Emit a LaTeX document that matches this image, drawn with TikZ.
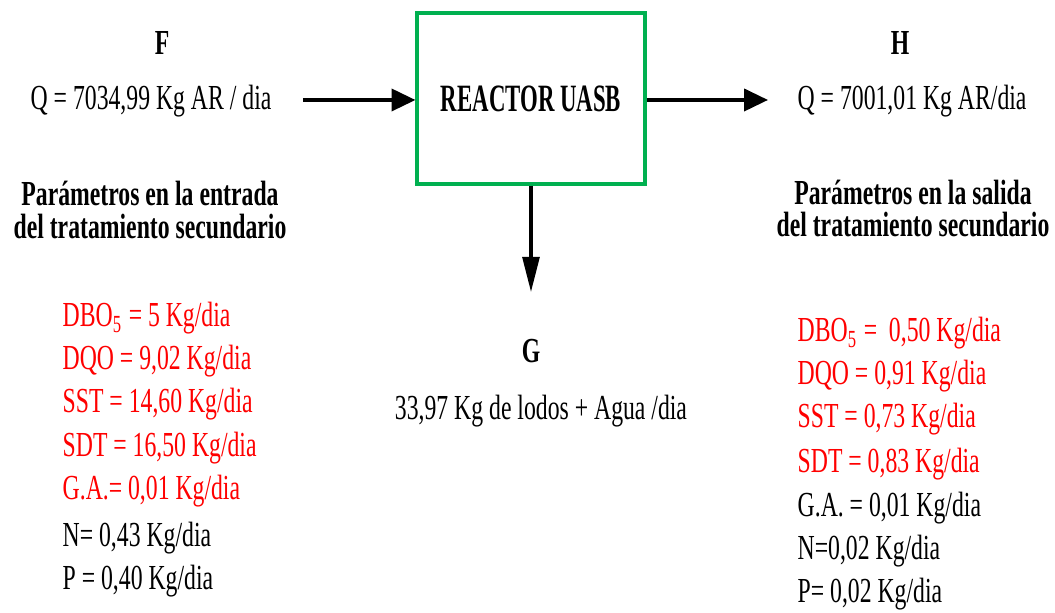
\documentclass[tikz,border=0pt]{standalone}
\usepackage{fontspec}
\setmainfont{Liberation Serif}[FakeStretch=0.675]
\newfontfamily\boxfont{Liberation Serif}[FakeStretch=0.59]
\usetikzlibrary{arrows.meta}
\definecolor{boxgreen}{RGB}{0,176,80}
\definecolor{parred}{RGB}{255,0,0}
\begin{document}
\begin{tikzpicture}[
    txt/.style={inner sep=0pt, font=\fontsize{10}{12}\selectfont},
    btxt/.style={txt, font=\fontsize{10}{12}\selectfont\bfseries},
    reactor/.style={draw=boxgreen, line width=0.9pt, minimum width=2.28cm,
      minimum height=1.71cm, inner sep=0pt, font=\boxfont\fontsize{11}{13}\selectfont\bfseries},
    flow/.style={line width=0.95pt, -{Triangle[length=6.8pt,width=6.3pt]}},
    drop/.style={line width=0.95pt, -{Triangle[length=10pt,width=4.8pt]}}
  ]
  \useasboundingbox (0,0) rectangle (10.55,6.13);
  % reactor and streams
  \node[reactor] (reactor) at (5.31,5.145) {REACTOR UASB};
  \coordinate (fin) at (3.03,5.13);
  \coordinate (hout) at (7.68,5.13);
  \coordinate (gout) at (5.31,3.21);
  \draw[flow] (fin) -- (fin -| reactor.west);
  \draw[flow] (hout -| reactor.east) -- (hout);
  \draw[drop] (reactor.south) -- (gout);
  % stream names and flows
  \node[btxt, anchor=base] (lblF) at (1.62,5.58) {F};
  \node[txt, anchor=base west] (qin) at (0.30,5.03) {Q = 7034,99 Kg AR / dia};
  \node[btxt, anchor=base] (lblH) at (9.00,5.58) {H};
  \node[txt, anchor=base west] (qout) at (7.97,5.03) {Q = 7001,01 Kg AR/dia};
  \node[btxt, anchor=base] (lblG) at (5.31,2.50) {G};
  \node[txt, anchor=base] (qsludge) at (5.41,1.93) {33,97 Kg de lodos + Agua /dia};
  % inlet parameters
  \node[btxt, anchor=base] (headin1) at (1.50,4.07) {Parámetros en la entrada};
  \node[btxt, anchor=base] (headin2) at (1.50,3.74) {del tratamiento secundario};
  \node[txt, parred, anchor=base west] (in1) at (0.62,2.86) {DBO\textsubscript{5} = 5 Kg/dia};
  \node[txt, parred, anchor=base west] (in2) at (0.62,2.43) {DQO = 9,02 Kg/dia};
  \node[txt, parred, anchor=base west] (in3) at (0.62,2.00) {SST = 14,60 Kg/dia};
  \node[txt, parred, anchor=base west] (in4) at (0.62,1.56) {SDT = 16,50 Kg/dia};
  \node[txt, parred, anchor=base west] (in5) at (0.62,1.13) {G.A.= 0,01 Kg/dia};
  \node[txt, anchor=base west] (in6) at (0.62,0.66) {N= 0,43 Kg/dia};
  \node[txt, anchor=base west] (in7) at (0.62,0.23) {P = 0,40 Kg/dia};
  % outlet parameters
  \node[btxt, anchor=base] (headout1) at (9.13,4.08) {Parámetros en la salida};
  \node[btxt, anchor=base] (headout2) at (9.13,3.76) {del tratamiento secundario};
  \node[txt, parred, anchor=base west] (out1) at (7.97,2.71) {DBO\textsubscript{5} =~ 0,50 Kg/dia};
  \node[txt, parred, anchor=base west] (out2) at (7.97,2.28) {DQO = 0,91 Kg/dia};
  \node[txt, parred, anchor=base west] (out3) at (7.97,1.85) {SST = 0,73 Kg/dia};
  \node[txt, parred, anchor=base west] (out4) at (7.97,1.40) {SDT = 0,83 Kg/dia};
  \node[txt, anchor=base west] (out5) at (7.97,0.96) {G.A. = 0,01 Kg/dia};
  \node[txt, anchor=base west] (out6) at (7.97,0.53) {N=0,02 Kg/dia};
  \node[txt, anchor=base west] (out7) at (7.97,0.10) {P= 0,02 Kg/dia};
\end{tikzpicture}
\end{document}
